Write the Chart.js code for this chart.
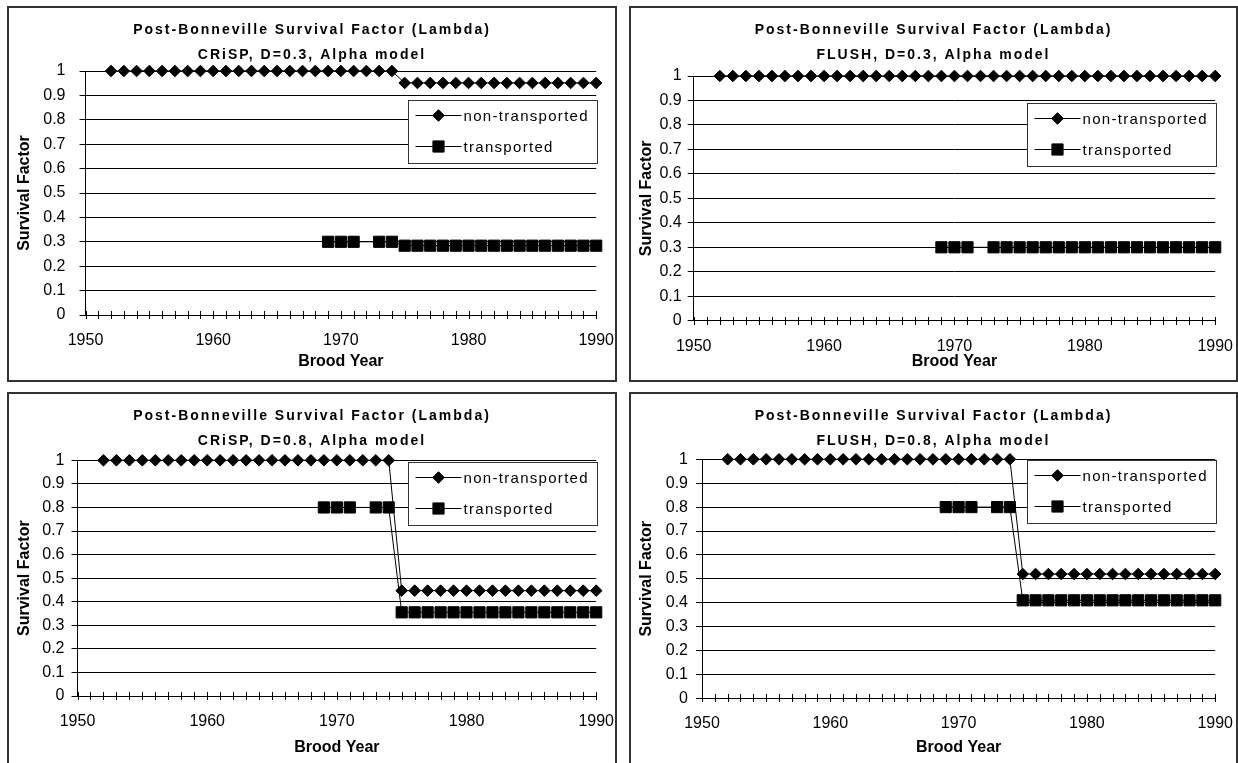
<!DOCTYPE html>
<html>
<head>
<meta charset="utf-8">
<title>Post-Bonneville Survival Factor (Lambda)</title>
<script src="https://cdn.jsdelivr.net/npm/chart.js@4.4.1/dist/chart.umd.min.js"></script>
<style>
  body { margin: 0; background: #fff; width: 1238px; height: 763px; overflow: hidden; position: relative; }
  .painel { position: absolute; border: 2px solid #333; background: #fff; }
  .painel canvas { display: block; }
</style>
</head>
<body>
<div class="painel" style="left:7px; top:6px;"><canvas id="grafico1" width="606" height="372"></canvas></div>
<div class="painel" style="left:629px; top:6px;"><canvas id="grafico2" width="605" height="372"></canvas></div>
<div class="painel" style="left:7px; top:392px;"><canvas id="grafico3" width="606" height="372"></canvas></div>
<div class="painel" style="left:629px; top:392px;"><canvas id="grafico4" width="605" height="372"></canvas></div>
<script>
const fonte = "'Liberation Sans', Arial, sans-serif";

const anos = [
  1952, 1953, 1954, 1955, 1956, 1957, 1958, 1959, 1960, 1961, 1962, 1963, 1964, 1965, 1966, 1967, 1968,
  1969, 1970, 1971, 1972, 1973, 1974,
  1975, 1976, 1977, 1978, 1979, 1980, 1981, 1982, 1983, 1984, 1985, 1986, 1987, 1988, 1989, 1990,
];
const rotulosX = [1950, 1960, 1970, 1980, 1990];

const tituloGeral = "Post-Bonneville Survival Factor (Lambda)";
const subtitulos = [
  "CRiSP, D=0.3, Alpha model",
  "FLUSH, D=0.3, Alpha model",
  "CRiSP, D=0.8, Alpha model",
  "FLUSH, D=0.8, Alpha model",
];
const nomesSeries = ["non-transported", "transported"];

// valores, um por ano (1952..1990)
const crispD03Nao = [
  1, 1, 1, 1, 1, 1, 1, 1, 1, 1, 1, 1, 1, 1, 1, 1, 1,
  1, 1, 1, 1, 1, 1,
  0.951, 0.951, 0.951, 0.951, 0.951, 0.951, 0.951, 0.951, 0.951, 0.951, 0.951, 0.951, 0.951, 0.951, 0.951, 0.951,
];
const crispD03Trans = [
  null, null, null, null, null, null, null, null, null, null, null, null, null, null, null, null, null,
  0.3, 0.3, 0.3, null, 0.3, 0.3,
  0.284, 0.284, 0.284, 0.284, 0.284, 0.284, 0.284, 0.284, 0.284, 0.284, 0.284, 0.284, 0.284, 0.284, 0.284, 0.284,
];
const flushD03Nao = [
  1, 1, 1, 1, 1, 1, 1, 1, 1, 1, 1, 1, 1, 1, 1, 1, 1,
  1, 1, 1, 1, 1, 1,
  1, 1, 1, 1, 1, 1, 1, 1, 1, 1, 1, 1, 1, 1, 1, 1,
];
const flushD03Trans = [
  null, null, null, null, null, null, null, null, null, null, null, null, null, null, null, null, null,
  0.3, 0.3, 0.3, null, 0.3, 0.3,
  0.3, 0.3, 0.3, 0.3, 0.3, 0.3, 0.3, 0.3, 0.3, 0.3, 0.3, 0.3, 0.3, 0.3, 0.3, 0.3,
];
const crispD08Nao = [
  1, 1, 1, 1, 1, 1, 1, 1, 1, 1, 1, 1, 1, 1, 1, 1, 1,
  1, 1, 1, 1, 1, 1,
  0.447, 0.447, 0.447, 0.447, 0.447, 0.447, 0.447, 0.447, 0.447, 0.447, 0.447, 0.447, 0.447, 0.447, 0.447, 0.447,
];
const crispD08Trans = [
  null, null, null, null, null, null, null, null, null, null, null, null, null, null, null, null, null,
  0.8, 0.8, 0.8, null, 0.8, 0.8,
  0.355, 0.355, 0.355, 0.355, 0.355, 0.355, 0.355, 0.355, 0.355, 0.355, 0.355, 0.355, 0.355, 0.355, 0.355, 0.355,
];
const flushD08Nao = [
  1, 1, 1, 1, 1, 1, 1, 1, 1, 1, 1, 1, 1, 1, 1, 1, 1,
  1, 1, 1, 1, 1, 1,
  0.52, 0.52, 0.52, 0.52, 0.52, 0.52, 0.52, 0.52, 0.52, 0.52, 0.52, 0.52, 0.52, 0.52, 0.52, 0.52,
];
const flushD08Trans = [
  null, null, null, null, null, null, null, null, null, null, null, null, null, null, null, null, null,
  0.8, 0.8, 0.8, null, 0.8, 0.8,
  0.41, 0.41, 0.41, 0.41, 0.41, 0.41, 0.41, 0.41, 0.41, 0.41, 0.41, 0.41, 0.41, 0.41, 0.41, 0.41,
];

// layout de cada painel (pixels do canvas)
const paineis = [
  { id: "grafico1", sub: subtitulos[0], nao: crispD03Nao, trans: crispD03Trans, yW: 76.5, padTop: 63, padRight: 18.8, xH: 65, yPad: 14, legTopo: 29 },
  { id: "grafico2", sub: subtitulos[1], nao: flushD03Nao, trans: flushD03Trans, yW: 62.7, padTop: 68, padRight: 20.8, xH: 59.3, yPad: 6, legTopo: 27 },
  { id: "grafico3", sub: subtitulos[2], nao: crispD08Nao, trans: crispD08Trans, yW: 68.5, padTop: 66.3, padRight: 18.8, xH: 70, yPad: 7, legTopo: 2 },
  { id: "grafico4", sub: subtitulos[3], nao: flushD08Nao, trans: flushD08Trans, yW: 71, padTop: 65.3, padRight: 20.8, xH: 67.7, yPad: 8, legTopo: 1 },
];

const pontos = (valores) => anos.map((ano, i) => ({ x: ano, y: valores[i] }));

function desenharMarcador(ctx, estilo, raio, x, y) {
  ctx.fillStyle = "#000";
  ctx.strokeStyle = "#000";
  ctx.lineWidth = 1;
  if (Chart.helpers && Chart.helpers.drawPoint) {
    Chart.helpers.drawPoint(ctx, { pointStyle: estilo, radius: raio, rotation: 0, borderWidth: 1 }, x, y);
    return;
  }
  ctx.beginPath();
  if (estilo === "rectRot") {
    ctx.moveTo(x - raio, y);
    ctx.lineTo(x, y - raio);
    ctx.lineTo(x + raio, y);
    ctx.lineTo(x, y + raio);
  } else {
    const s = raio * Math.SQRT1_2;
    ctx.rect(x - s, y - s, 2 * s, 2 * s);
  }
  ctx.closePath();
  ctx.fill();
  ctx.stroke();
}

// titulo em duas linhas, com espacamento entre letras
const tituloPlugin = {
  id: "tituloDuplo",
  afterDraw(chart, args, opts) {
    const ctx = chart.ctx;
    ctx.save();
    ctx.fillStyle = "#000";
    ctx.font = "bold 14px " + fonte;
    ctx.letterSpacing = "2px";
    ctx.textAlign = "center";
    ctx.textBaseline = "middle";
    const cx = chart.width / 2;
    ctx.fillText(tituloGeral, cx, 22.5);
    ctx.fillText(opts.sub, cx, 47.5);
    ctx.restore();
  },
};

// caixa de legenda dentro da area do grafico
const legendaPlugin = {
  id: "legendaCaixa",
  afterDraw(chart, args, opts) {
    const { ctx, chartArea } = chart;
    const w = 189;
    const h = 63;
    const x0 = Math.round(chartArea.right - w + 1) + 0.5;
    const y0 = Math.round(chartArea.top + opts.topo) + 0.5;
    ctx.save();
    ctx.fillStyle = "#fff";
    ctx.fillRect(x0, y0, w, h);
    ctx.strokeStyle = "#333";
    ctx.lineWidth = 1;
    ctx.strokeRect(x0, y0, w, h);
    chart.data.datasets.forEach((ds, i) => {
      const cy = Math.round(y0 + 14 + i * 31) + 0.5;
      ctx.strokeStyle = "#000";
      ctx.lineWidth = 1;
      ctx.beginPath();
      ctx.moveTo(x0 + 7, cy);
      ctx.lineTo(x0 + 53, cy);
      ctx.stroke();
      desenharMarcador(ctx, ds.pointStyle, ds.pointRadius, x0 + 30, cy);
      ctx.fillStyle = "#000";
      ctx.font = "15px " + fonte;
      ctx.letterSpacing = "1.3px";
      ctx.textAlign = "left";
      ctx.textBaseline = "middle";
      ctx.fillText(ds.label, x0 + 55, cy + 1);
    });
    ctx.restore();
  },
};

// marcas do eixo x que cruzam a linha do eixo
const marcasPlugin = {
  id: "marcasCruzadas",
  afterDraw(chart) {
    const { ctx, chartArea } = chart;
    const escala = chart.scales.x;
    const y0 = Math.round(chartArea.bottom);
    ctx.save();
    ctx.strokeStyle = "#000";
    ctx.lineWidth = 1;
    escala.ticks.forEach((t) => {
      const px = Math.round(escala.getPixelForValue(t.value)) + 0.5;
      ctx.beginPath();
      ctx.moveTo(px, y0 - 4);
      ctx.lineTo(px, y0 + 4);
      ctx.stroke();
    });
    ctx.restore();
  },
};

function gerarGrafico(p) {
  const ctx = document.getElementById(p.id);
  new Chart(ctx, {
    type: "line",
    data: {
      datasets: [
        {
          label: nomesSeries[0],
          data: pontos(p.nao),
          borderColor: "#000",
          backgroundColor: "#000",
          borderWidth: 1,
          pointStyle: "rectRot",
          pointRadius: 5.8,
          pointBorderWidth: 1,
          spanGaps: true,
          clip: false,
        },
        {
          label: nomesSeries[1],
          data: pontos(p.trans),
          borderColor: "#000",
          backgroundColor: "#000",
          borderWidth: 1,
          pointStyle: "rect",
          pointRadius: 7.9,
          pointBorderWidth: 1,
          spanGaps: true,
          clip: false,
        },
      ],
    },
    options: {
      responsive: false,
      animation: false,
      devicePixelRatio: 1,
      events: [],
      layout: { padding: { top: p.padTop, right: p.padRight, bottom: 0, left: 0 } },
      plugins: {
        legend: { display: false },
        tooltip: { enabled: false },
        tituloDuplo: { sub: p.sub },
        legendaCaixa: { topo: p.legTopo },
      },
      scales: {
        x: {
          type: "linear",
          min: 1950,
          max: 1990,
          afterFit: (s) => {
            s.height = p.xH;
          },
          ticks: {
            stepSize: 1,
            autoSkip: false,
            maxRotation: 0,
            padding: 0,
            color: "#000",
            font: { size: 16, family: fonte },
            callback: (v) => (rotulosX.includes(v) ? String(v) : ""),
          },
          grid: { drawOnChartArea: false, color: "rgba(0,0,0,0)", tickLength: 16 },
          border: { color: "#000", width: 1 },
          title: {
            display: true,
            text: "Brood Year",
            color: "#000",
            font: { size: 16, weight: "bold", family: fonte },
            padding: { top: 0, bottom: 8.6 },
          },
        },
        y: {
          min: 0,
          max: 1,
          afterFit: (s) => {
            s.width = p.yW;
          },
          ticks: {
            stepSize: 0.1,
            padding: p.yPad,
            color: "#000",
            font: { size: 16, family: fonte },
            callback: (v) => String(Number(v.toFixed(1))),
          },
          grid: { color: "#000", tickLength: 6 },
          border: { color: "#000", width: 1 },
          title: {
            display: true,
            text: "Survival Factor",
            color: "#000",
            font: { size: 16, weight: "bold", family: fonte },
            padding: { top: 6, bottom: 0 },
          },
        },
      },
    },
    plugins: [tituloPlugin, legendaPlugin, marcasPlugin],
  });
}

paineis.forEach(gerarGrafico);
</script>
</body>
</html>
